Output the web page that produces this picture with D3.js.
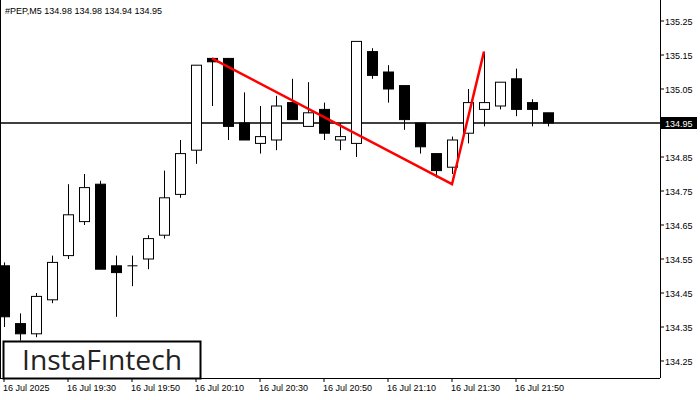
<!DOCTYPE html><html><head><meta charset="utf-8"><script src="https://cdn.jsdelivr.net/npm/d3@7"></script>
<style>body{margin:0;background:#fff}svg{display:block}</style></head><body><svg id="c" width="700" height="400"></svg>
<script>
const times=["19:10","19:15","19:20","19:25","19:30","19:35","19:40","19:45","19:50","19:55","20:00","20:05","20:10","20:15","20:20","20:25","20:30","20:35","20:40","20:45","20:50","20:55","21:00","21:05","21:10","21:15","21:20","21:25","21:30","21:35","21:40","21:45","21:50","21:55","22:00"];
const open=[134.53,134.36,134.33,134.43,134.56,134.66,134.77,134.53,134.53,134.55,134.62,134.74,134.87,135.14,135.14,134.95,134.89,134.90,135.01,134.94,134.99,134.90,134.89,135.16,135.10,135.06,134.95,134.86,134.82,134.92,134.99,135.00,135.08,135.01,134.98];
const high=[134.54,134.39,134.45,134.56,134.77,134.80,134.78,134.56,134.56,134.62,134.81,134.90,135.12,135.14,135.14,135.04,135.00,135.03,135.08,135.07,135.01,134.95,135.19,135.17,135.12,135.06,134.95,134.86,134.91,135.05,135.16,135.07,135.11,135.02,134.98];
const low=[134.35,134.31,134.32,134.42,134.55,134.65,134.52,134.38,134.47,134.52,134.61,134.73,134.83,135.00,134.90,134.90,134.86,134.87,134.96,134.94,134.90,134.87,134.85,135.08,135.01,134.93,134.86,134.79,134.80,134.89,134.94,134.99,134.97,134.94,134.94];
const close=[134.38,134.33,134.44,134.54,134.68,134.76,134.52,134.51,134.53,134.61,134.73,134.86,135.12,135.13,134.94,134.90,134.91,135.00,134.96,134.98,134.92,134.91,135.19,135.09,135.05,134.96,134.88,134.81,134.90,135.01,135.01,135.07,134.99,134.99,134.95];
const priceTicks=[134.25,134.35,134.45,134.55,134.65,134.75,134.85,134.95,135.05,135.15,135.25];
const patternIdx=[13,28,30];
const patternPrice=[135.14,134.77,135.16];
const current=134.95;

const svg=d3.select("#c");
const W=660,H=378;
const x=d3.scaleLinear().domain([0,1]).range([4,20]);
const y=d3.scaleLinear().domain([134.25,135.25]).range([361,21]);
const g=svg.append("g");
g.append("clipPath").attr("id","cl").append("rect").attr("x",0).attr("y",0).attr("width",W).attr("height",H);
const p=g.append("g").attr("clip-path","url(#cl)");
p.append("line").attr("x1",0).attr("x2",W).attr("y1",y(current)).attr("y2",y(current)).attr("stroke","#000").attr("stroke-width",1.3);
times.forEach((t,i)=>{
  const cx=Math.round(x(i))+0.5,up=close[i]>=open[i];
  p.append("line").attr("x1",cx).attr("x2",cx).attr("y1",y(high[i])).attr("y2",y(low[i])).attr("stroke","#000");
  const t1=y(Math.max(open[i],close[i])),b1=y(Math.min(open[i],close[i]));
  if(Math.abs(b1-t1)<1.5){p.append("line").attr("x1",cx-5).attr("x2",cx+5).attr("y1",t1).attr("y2",t1).attr("stroke","#000");}
  else p.append("rect").attr("x",cx-5).attr("y",t1).attr("width",10).attr("height",b1-t1).attr("fill",up?"#fff":"#000").attr("stroke","#000");
});
p.append("path").attr("d",d3.line()(patternIdx.map((d,k)=>[x(d),y(patternPrice[k])]))).attr("fill","none").attr("stroke","#f00").attr("stroke-width",2.5);
svg.append("line").attr("x1",W+0.5).attr("x2",W+0.5).attr("y1",0).attr("y2",H).attr("stroke","#000");
svg.append("line").attr("x1",0).attr("x2",W).attr("y1",H+0.5).attr("y2",H+0.5).attr("stroke","#000");
svg.append("line").attr("x1",0.5).attr("x2",0.5).attr("y1",0).attr("y2",H).attr("stroke","#000");
const ff="Arial, 'Liberation Sans', sans-serif";
priceTicks.forEach(v=>{
  svg.append("line").attr("x1",W).attr("x2",W+4).attr("y1",y(v)).attr("y2",y(v)).attr("stroke","#000");
  svg.append("text").attr("x",665).attr("y",y(v)+3.5).attr("font-size",9).attr("font-family",ff).text(v.toFixed(2));
});
svg.append("rect").attr("x",661).attr("y",y(current)-6).attr("width",36).attr("height",12).attr("fill","#000");
svg.append("text").attr("x",665).attr("y",y(current)+3.5).attr("font-size",9).attr("font-family",ff).attr("fill","#fff").text(current.toFixed(2));
times.forEach((t,i)=>{ if(i%4==0&&i<=32){
  const xx=x(i);
  svg.append("line").attr("x1",xx).attr("x2",xx).attr("y1",H).attr("y2",H+4).attr("stroke","#000");
  svg.append("text").attr("x",xx-1).attr("y",391).attr("font-size",9).attr("font-family",ff).text(i==0?"16 Jul 2025":"16 Jul "+t);
}});
svg.append("text").attr("x",5).attr("y",14).attr("font-size",9).attr("font-family",ff).text("#PEP,M5  134.98 134.98 134.94 134.95");
svg.append("rect").attr("x",3.5).attr("y",341.5).attr("width",197).attr("height",37).attr("fill","#fff").attr("stroke","#000").attr("stroke-width",2);
svg.append("text").attr("x",22).attr("y",370).attr("font-size",27).attr("font-weight",500).attr("font-family","'Open Sans', sans-serif").attr("fill","#222").attr("textLength",160).attr("lengthAdjust","spacingAndGlyphs").text("InstaFıntech");
</script></body></html>
